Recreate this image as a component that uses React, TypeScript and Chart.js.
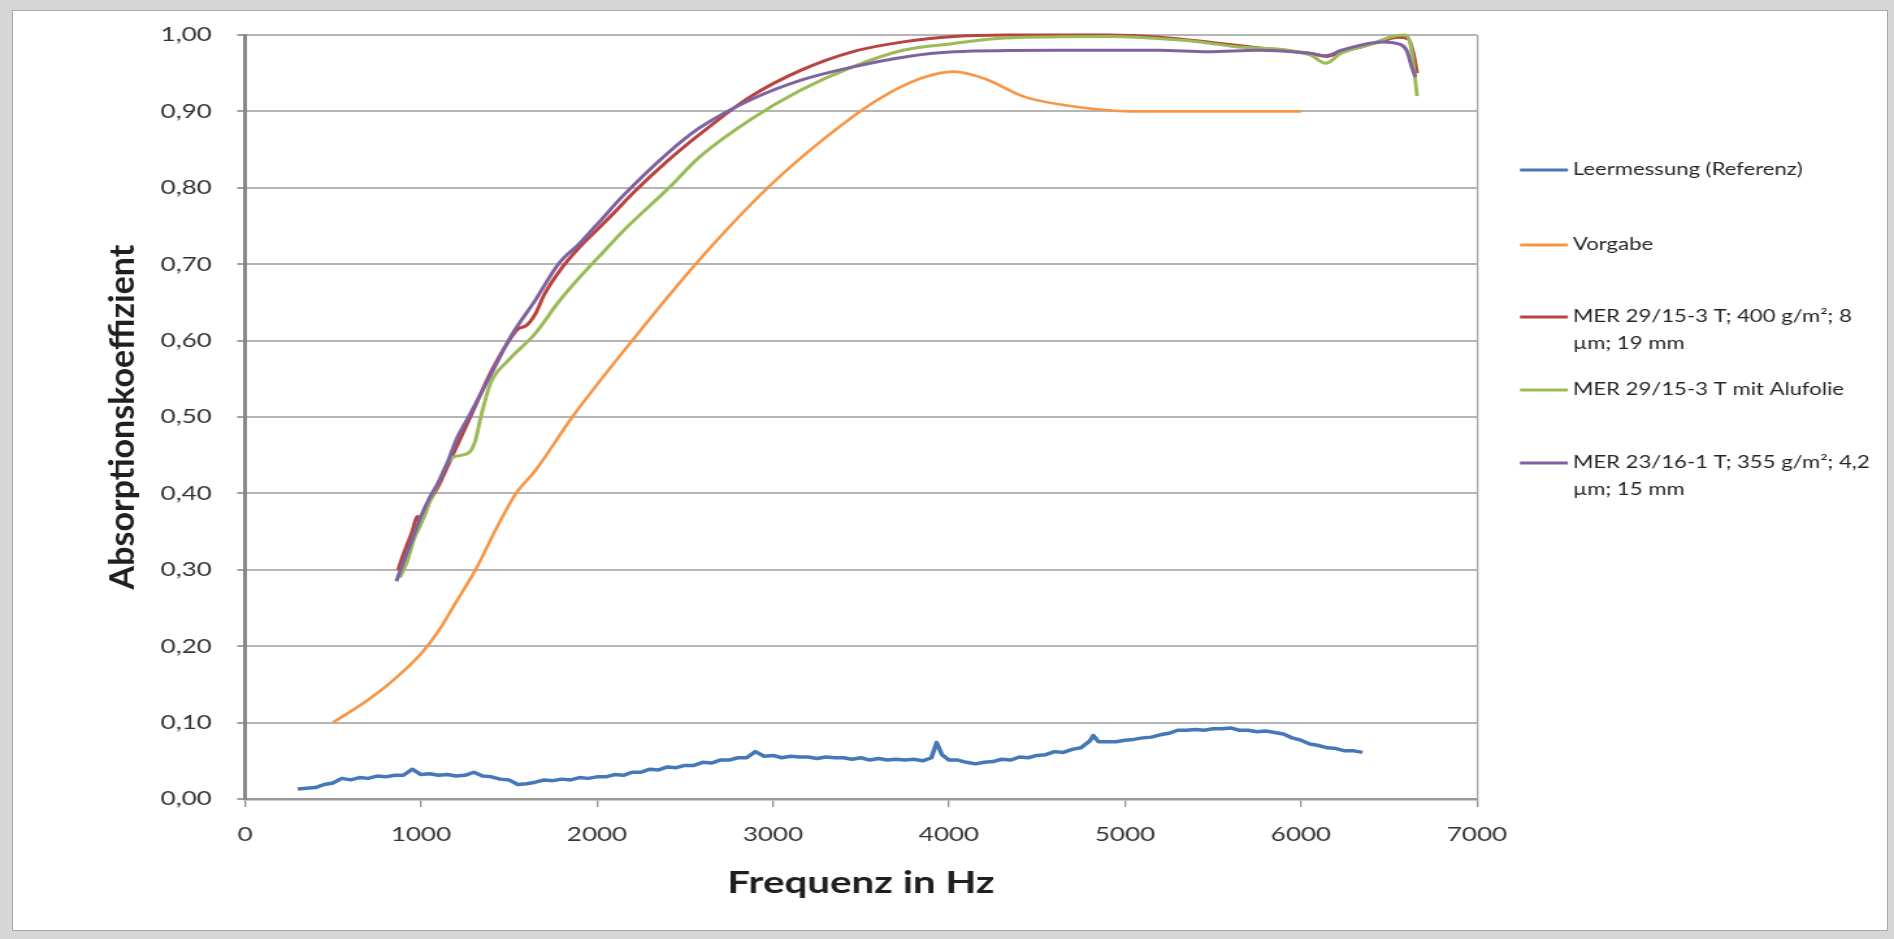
import React, { useEffect, useRef } from 'react';
import { Chart, registerables } from 'chart.js';

Chart.register(...registerables);

// ---------------- data ----------------
const xTickValues = [0, 1000, 2000, 3000, 4000, 5000, 6000, 7000];
const yTickValues = [0, 0.1, 0.2, 0.3, 0.4, 0.5, 0.6, 0.7, 0.8, 0.9, 1.0];

const seriesLabels = [
  'Leermessung (Referenz)',
  'Vorgabe',
  'MER 29/15-3 T; 400 g/m²; 8 µm; 19 mm',
  'MER 29/15-3 T mit Alufolie',
  'MER 23/16-1 T; 355 g/m²; 4,2 µm; 15 mm',
];
const legendLines = [
  ['Leermessung (Referenz)'],
  ['Vorgabe'],
  ['MER 29/15-3 T; 400 g/m²; 8', 'µm; 19 mm'],
  ['MER 29/15-3 T mit Alufolie'],
  ['MER 23/16-1 T; 355 g/m²; 4,2', 'µm; 15 mm'],
];
const seriesColors = ['#4677b6', '#f79646', '#b8433f', '#9bbb59', '#7f63a1'];

const xTitle = 'Frequenz in Hz';
const yTitle = 'Absorptionskoeffizient';

const leerHz = [
  300, 350, 400, 450, 500, 550, 600, 650, 700, 750, 800, 850, 900, 950, 1000, 1050, 1100, 1150, 1200, 1250,
  1300, 1350, 1400, 1450, 1500, 1550, 1600, 1650, 1700, 1750, 1800, 1850, 1900, 1950, 2000, 2050, 2100, 2150,
  2200, 2250, 2300, 2350, 2400, 2450, 2500, 2550, 2600, 2650, 2700, 2750, 2800, 2850, 2900, 2950, 3000, 3050,
  3100, 3150, 3200, 3250, 3300, 3350, 3400, 3450, 3500, 3550, 3600, 3650, 3700, 3750, 3800, 3850, 3900, 3930,
  3960, 4000, 4050, 4100, 4150, 4200, 4250, 4300, 4350, 4400, 4450, 4500, 4550, 4600, 4650, 4700, 4750, 4800,
  4820, 4850, 4900, 4950, 5000, 5050, 5100, 5150, 5200, 5250, 5300, 5350, 5400, 5450, 5500, 5550, 5600, 5650,
  5700, 5750, 5800, 5850, 5900, 5950, 6000, 6050, 6100, 6150, 6200, 6250, 6300, 6350,
];
const leerAlpha = [
  0.013, 0.014, 0.015, 0.019, 0.021, 0.027, 0.025, 0.028, 0.027, 0.030, 0.029, 0.031, 0.031, 0.039, 0.032, 0.033,
  0.031, 0.032, 0.030, 0.031, 0.035, 0.030, 0.029, 0.026, 0.025, 0.019, 0.020, 0.022, 0.025, 0.024, 0.026, 0.025,
  0.028, 0.027, 0.029, 0.029, 0.032, 0.031, 0.035, 0.035, 0.039, 0.038, 0.042, 0.041, 0.044, 0.044, 0.048, 0.047,
  0.051, 0.051, 0.054, 0.054, 0.062, 0.056, 0.057, 0.054, 0.056, 0.055, 0.055, 0.053, 0.055, 0.054, 0.054, 0.052,
  0.054, 0.051, 0.053, 0.051, 0.052, 0.051, 0.052, 0.050, 0.054, 0.074, 0.058, 0.051, 0.051, 0.048, 0.046, 0.048,
  0.049, 0.052, 0.051, 0.055, 0.054, 0.057, 0.058, 0.062, 0.061, 0.065, 0.067, 0.076, 0.083, 0.075, 0.075, 0.075,
  0.077, 0.078, 0.080, 0.081, 0.084, 0.086, 0.090, 0.090, 0.091, 0.090, 0.092, 0.092, 0.093, 0.090, 0.090, 0.088,
  0.089, 0.087, 0.085, 0.080, 0.077, 0.072, 0.070, 0.067, 0.066, 0.063, 0.063, 0.061,
];

const vorgabeHz = [500, 700, 840, 1000, 1100, 1200, 1310, 1430, 1540, 1650, 1860, 2200, 2560, 2970, 3300, 3600, 3850, 4030, 4200, 4430, 4660, 5040, 5470, 6000];
const vorgabeAlpha = [0.10, 0.13, 0.155, 0.19, 0.22, 0.258, 0.30, 0.355, 0.40, 0.43, 0.50, 0.60, 0.70, 0.80, 0.866, 0.916, 0.944, 0.952, 0.943, 0.919, 0.908, 0.90, 0.90, 0.90];

const mer400Hz = [870, 900, 950, 980, 1000, 1050, 1100, 1150, 1200, 1300, 1400, 1500, 1550, 1600, 1650, 1700, 1800, 1900, 2000, 2100, 2200, 2400, 2600, 2870, 3160, 3450, 3740, 4030, 4320, 4900, 5200, 5500, 5800, 6050, 6150, 6230, 6350, 6460, 6550, 6610, 6640, 6660];
const mer400Alpha = [0.30, 0.32, 0.35, 0.37, 0.365, 0.39, 0.41, 0.435, 0.46, 0.51, 0.56, 0.60, 0.615, 0.62, 0.635, 0.66, 0.695, 0.722, 0.745, 0.768, 0.792, 0.835, 0.873, 0.919, 0.954, 0.978, 0.991, 0.998, 1.0, 1.0, 0.997, 0.99, 0.982, 0.976, 0.972, 0.978, 0.985, 0.992, 0.997, 0.995, 0.975, 0.95];

const alufolieHz = [880, 920, 960, 1000, 1050, 1100, 1150, 1180, 1230, 1280, 1310, 1340, 1395, 1500, 1648, 1780, 1902, 2028, 2155, 2409, 2581, 2870, 3159, 3449, 3738, 4027, 4317, 4896, 5330, 5620, 6052, 6140, 6228, 6400, 6518, 6590, 6620, 6640, 6660];
const alufolieAlpha = [0.29, 0.31, 0.34, 0.36, 0.39, 0.415, 0.44, 0.447, 0.45, 0.455, 0.47, 0.50, 0.544, 0.575, 0.609, 0.65, 0.683, 0.714, 0.745, 0.80, 0.84, 0.889, 0.928, 0.958, 0.98, 0.989, 0.996, 0.998, 0.993, 0.985, 0.974, 0.963, 0.976, 0.988, 0.998, 1.0, 0.99, 0.96, 0.92];

const mer355Hz = [860, 900, 950, 1000, 1050, 1100, 1150, 1200, 1270, 1400, 1520, 1650, 1780, 1900, 2000, 2150, 2400, 2580, 2870, 3160, 3450, 3740, 4030, 4600, 5190, 5470, 5760, 6050, 6140, 6230, 6460, 6560, 6600, 6630, 6650];
const mer355Alpha = [0.285, 0.31, 0.34, 0.37, 0.395, 0.415, 0.44, 0.47, 0.50, 0.557, 0.609, 0.653, 0.70, 0.727, 0.752, 0.79, 0.845, 0.878, 0.915, 0.941, 0.958, 0.971, 0.978, 0.98, 0.98, 0.978, 0.98, 0.976, 0.973, 0.98, 0.991, 0.988, 0.98, 0.958, 0.945];

// ---------------- layout (page pixels) ----------------
const STRETCH = 1.3;
const PAGE_W = 1894;
const PAGE_H = 939;
const CANVAS_W = Math.round(PAGE_W / STRETCH);
const PLOT_LEFT = 245;
const PLOT_RIGHT = 1477;
const PLOT_TOP = 35;
const PLOT_BOTTOM = 799;
const FONT = 'Lato, "Open Sans", sans-serif';

const toPts = (xs: number[], ys: number[]) => xs.map((x, i) => ({ x, y: ys[i] }));
const fmt = (v: number) => v.toFixed(2).replace('.', ',');

const yTitlePlugin = {
  id: 'yTitleUnstretched',
  afterDraw(chart: any) {
    const ctx = chart.ctx;
    ctx.save();
    ctx.translate(123 / STRETCH, (PLOT_TOP + PLOT_BOTTOM) / 2);
    ctx.scale(1 / STRETCH, 1);
    ctx.rotate(-Math.PI / 2);
    ctx.font = `bold 34px ${FONT}`;
    ctx.fillStyle = '#1f1f1f';
    ctx.textAlign = 'center';
    ctx.textBaseline = 'middle';
    ctx.fillText(yTitle, 0, 0);
    ctx.restore();
  },
};

const legendY = [170, 245, 317, 390, 463];
const legendPlugin = {
  id: 'sideLegend',
  afterDraw(chart: any) {
    const ctx = chart.ctx;
    ctx.save();
    chart.data.datasets.forEach((ds: any, i: number) => {
      const y = legendY[i];
      ctx.strokeStyle = ds.borderColor;
      ctx.lineWidth = 3;
      ctx.beginPath();
      ctx.moveTo(1520 / STRETCH, y);
      ctx.lineTo(1568 / STRETCH, y);
      ctx.stroke();
      ctx.font = `17px ${FONT}`;
      ctx.fillStyle = '#262626';
      ctx.textAlign = 'left';
      ctx.textBaseline = 'middle';
      legendLines[i].forEach((line, j) => {
        ctx.fillText(line, 1573 / STRETCH, y + j * 26.6);
      });
    });
    ctx.restore();
  },
};

export default function App() {
  const ref = useRef<HTMLCanvasElement>(null);

  useEffect(() => {
    const canvas = ref.current;
    if (!canvas) return;
    const series = [
      toPts(leerHz, leerAlpha),
      toPts(vorgabeHz, vorgabeAlpha),
      toPts(mer400Hz, mer400Alpha),
      toPts(alufolieHz, alufolieAlpha),
      toPts(mer355Hz, mer355Alpha),
    ];
    const widths = [3.5, 2.6, 3, 3, 3];
    const chart = new Chart(canvas, {
      type: 'line',
      data: {
        datasets: series.map((data, i) => ({
          label: seriesLabels[i],
          data,
          borderColor: seriesColors[i],
          backgroundColor: seriesColors[i],
          borderWidth: widths[i],
          pointRadius: 0,
          fill: false,
          clip: false as any,
          order: 5 - i,
          tension: 0,
          borderJoinStyle: 'round',
          cubicInterpolationMode: i === 0 ? 'default' : 'monotone',
        })) as any,
      },
      options: {
        animation: false,
        responsive: false,
        devicePixelRatio: 1,
        layout: {
          padding: {
            left: 0,
            top: PLOT_TOP,
            right: CANVAS_W - PLOT_RIGHT / STRETCH,
            bottom: 0,
          },
        },
        plugins: {
          legend: { display: false },
          tooltip: { enabled: false },
          title: { display: false },
        },
        scales: {
          x: {
            type: 'linear',
            min: 0,
            max: 7000,
            afterFit: (s: any) => {
              s.height = PAGE_H - PLOT_BOTTOM;
            },
            afterBuildTicks: (s: any) => {
              s.ticks = xTickValues.map((v) => ({ value: v }));
            },
            ticks: {
              autoSkip: false,
              maxRotation: 0,
              padding: 16,
              color: '#333333',
              font: { family: FONT, size: 20 },
              callback: (v: any) => String(v),
            },
            grid: {
              color: (c: any) => (c.tick && c.tick.value === 7000 ? '#a3a3a3' : 'rgba(0,0,0,0)'),
              lineWidth: 1.3,
              tickColor: '#8f8f8f',
              tickLength: 8,
              tickWidth: 1.3,
            },
            border: { display: true, color: '#9a9a9a', width: 2.5 },
            title: {
              display: true,
              text: xTitle,
              color: '#1f1f1f',
              font: { family: FONT, size: 31, weight: 'bold' },
              padding: { top: 0, bottom: 37 },
            },
          },
          y: {
            type: 'linear',
            min: 0,
            max: 1,
            afterFit: (s: any) => {
              s.width = PLOT_LEFT / STRETCH;
            },
            afterBuildTicks: (s: any) => {
              s.ticks = yTickValues.map((v) => ({ value: v }));
            },
            ticks: {
              padding: 19.5,
              color: '#333333',
              font: { family: FONT, size: 20 },
              callback: (v: any) => fmt(Number(v)),
            },
            grid: {
              color: '#b5b5b5',
              lineWidth: 2,
              tickColor: '#a0a0a0',
              tickLength: 6,
              tickWidth: 2,
            },
            border: { display: true, color: '#878787', width: 3 },
            title: { display: false },
          },
        },
      } as any,
      plugins: [yTitlePlugin, legendPlugin],
    });
    return () => chart.destroy();
  }, []);

  return (
    <div
      style={{
        position: 'fixed',
        left: 0,
        top: 0,
        width: PAGE_W,
        height: PAGE_H,
        background: '#d6d6d6',
        overflow: 'hidden',
      }}
    >
      <div
        style={{
          position: 'absolute',
          left: 12,
          top: 10,
          width: 1874,
          height: 919,
          background: '#ffffff',
          border: '1px solid #a8a8a8',
        }}
      />
      <canvas
        ref={ref}
        width={CANVAS_W}
        height={PAGE_H}
        style={{ position: 'absolute', left: 0, top: 0, width: `${PAGE_W}px`, height: `${PAGE_H}px` }}
      />
    </div>
  );
}
